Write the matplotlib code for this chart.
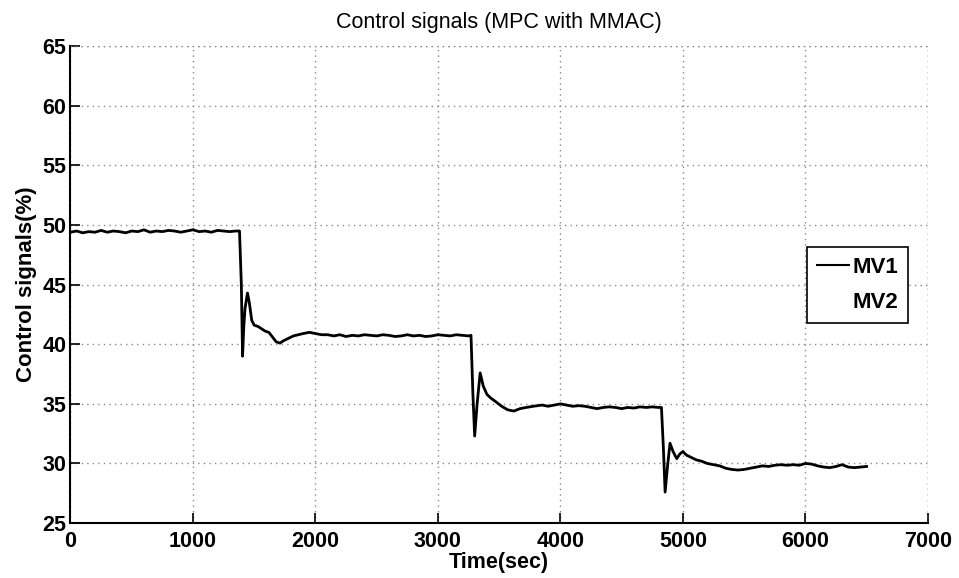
import matplotlib
matplotlib.use("Agg")
import matplotlib.pyplot as plt
import numpy as np

plt.rcParams['font.family'] = ['Liberation Sans', 'DejaVu Sans']

title = "Control signals (MPC with MMAC)"
xlabel = "Time(sec)"
ylabel = "Control signals(%)"
series_labels = ["MV1", "MV2"]
xticks = [0, 1000, 2000, 3000, 4000, 5000, 6000, 7000]
yticks = [25, 30, 35, 40, 45, 50, 55, 60, 65]

# MV1 samples (time, value)
mv1_t = [0, 50, 100, 150, 200, 250, 300, 350, 400, 450, 500, 550, 600, 650,
         700, 750, 800, 850, 900, 950, 1000, 1050, 1100, 1150, 1200, 1250,
         1300, 1350, 1380,
         1395, 1405, 1415, 1425, 1445, 1460, 1480, 1500, 1530, 1560, 1590,
         1620, 1650, 1680, 1710, 1740, 1780, 1820, 1860, 1900, 1950, 2000,
         2050, 2100, 2150, 2200, 2250, 2300, 2350, 2400, 2450, 2500, 2550,
         2600, 2650, 2700, 2750, 2800, 2850, 2900, 2950, 3000, 3050, 3100,
         3150, 3200, 3250, 3270,
         3285, 3300, 3320, 3345, 3370, 3400, 3430, 3470, 3520, 3570, 3620,
         3670, 3720, 3780, 3850, 3900, 3950, 4000, 4050, 4100, 4150, 4200,
         4250, 4300, 4350, 4400, 4450, 4500, 4550, 4600, 4650, 4700, 4750,
         4800, 4825,
         4840, 4855, 4875, 4895, 4920, 4950, 4975, 5000, 5030, 5070, 5110,
         5150, 5200, 5250, 5300, 5350, 5400, 5450, 5500, 5550, 5600, 5650,
         5700, 5750, 5800, 5850, 5900, 5950, 6000, 6050, 6100, 6150, 6200,
         6250, 6300, 6350, 6400, 6450, 6500]
mv1_v = [49.4, 49.5, 49.35, 49.45, 49.4, 49.55, 49.4, 49.5, 49.45, 49.35,
         49.5, 49.45, 49.6, 49.4, 49.5, 49.45, 49.55, 49.5, 49.4, 49.5, 49.6,
         49.45, 49.5, 49.4, 49.55, 49.5, 49.45, 49.5, 49.5,
         45.0, 39.0, 41.5, 43.0, 44.3, 43.5, 42.0, 41.6, 41.5, 41.3, 41.1,
         41.0, 40.6, 40.2, 40.1, 40.3, 40.5, 40.7, 40.8, 40.9, 41.0, 40.9,
         40.8, 40.8, 40.7, 40.8, 40.65, 40.75, 40.7, 40.8, 40.75, 40.7, 40.8,
         40.75, 40.65, 40.7, 40.8, 40.7, 40.75, 40.65, 40.7, 40.8, 40.75,
         40.7, 40.8, 40.75, 40.7, 40.75,
         36.0, 32.3, 35.0, 37.6, 36.5, 35.8, 35.5, 35.2, 34.8, 34.5, 34.4,
         34.6, 34.7, 34.8, 34.9, 34.8, 34.9, 35.0, 34.9, 34.8, 34.85, 34.8,
         34.7, 34.6, 34.7, 34.75, 34.7, 34.6, 34.7, 34.65, 34.75, 34.7, 34.75,
         34.7, 34.7,
         31.5, 27.6, 29.8, 31.7, 31.0, 30.4, 30.8, 31.0, 30.7, 30.5, 30.3,
         30.2, 30.0, 29.9, 29.8, 29.6, 29.5, 29.45, 29.5, 29.6, 29.7, 29.8,
         29.75, 29.85, 29.9, 29.85, 29.9, 29.85, 30.0, 29.95, 29.8, 29.7,
         29.65, 29.75, 29.9, 29.7, 29.65, 29.7, 29.75]

fig = plt.figure(figsize=(9.59, 5.78), dpi=100)
ax = fig.add_axes([0.0735, 0.095, 0.894, 0.825])

ax.plot(mv1_t, mv1_v, color='black', lw=2.0, label=series_labels[0])
ax.plot([], [], color='white', lw=1.5, label=series_labels[1])

ax.set_xlim(0, 7000)
ax.set_ylim(25, 65)
ax.set_xticks(xticks)
ax.set_yticks(yticks)
ax.tick_params(direction='in', length=7, width=1.2, labelsize=15.5,
               top=False, right=False)
ax.tick_params(axis='x', pad=6)
ax.tick_params(axis='y', pad=3)
for lab in ax.get_xticklabels() + ax.get_yticklabels():
    lab.set_fontweight('bold')
ax.spines['top'].set_visible(False)
ax.spines['right'].set_visible(False)
ax.spines['left'].set_linewidth(1.5)
ax.spines['bottom'].set_linewidth(1.5)
gstyle = dict(linestyle=(0, (1, 3)), color='#8a8a8a', linewidth=1.0)
ax.grid(True, **gstyle)
ax.axvline(7000, **gstyle)
ax.axhline(65, **gstyle)

ax.set_title(title, fontsize=15.5, pad=13)
ax.set_xlabel(xlabel, fontsize=15.5, fontweight='bold', labelpad=0)
ax.set_ylabel(ylabel, fontsize=16, fontweight='bold', labelpad=4)

leg = ax.legend(loc='upper right', bbox_to_anchor=(0.9767, 0.5786),
                borderaxespad=0, fontsize=16, frameon=True, fancybox=False,
                handlelength=1.45, handletextpad=0.15, borderpad=0.45,
                labelspacing=0.6)
leg.get_frame().set_edgecolor('black')
leg.get_frame().set_linewidth(1.2)
leg.get_frame().set_alpha(1)
for t in leg.get_texts():
    t.set_fontweight('bold')
leg.get_lines()[0].set_linewidth(1.5)

fig.savefig("out.png", dpi=100, facecolor='white')
